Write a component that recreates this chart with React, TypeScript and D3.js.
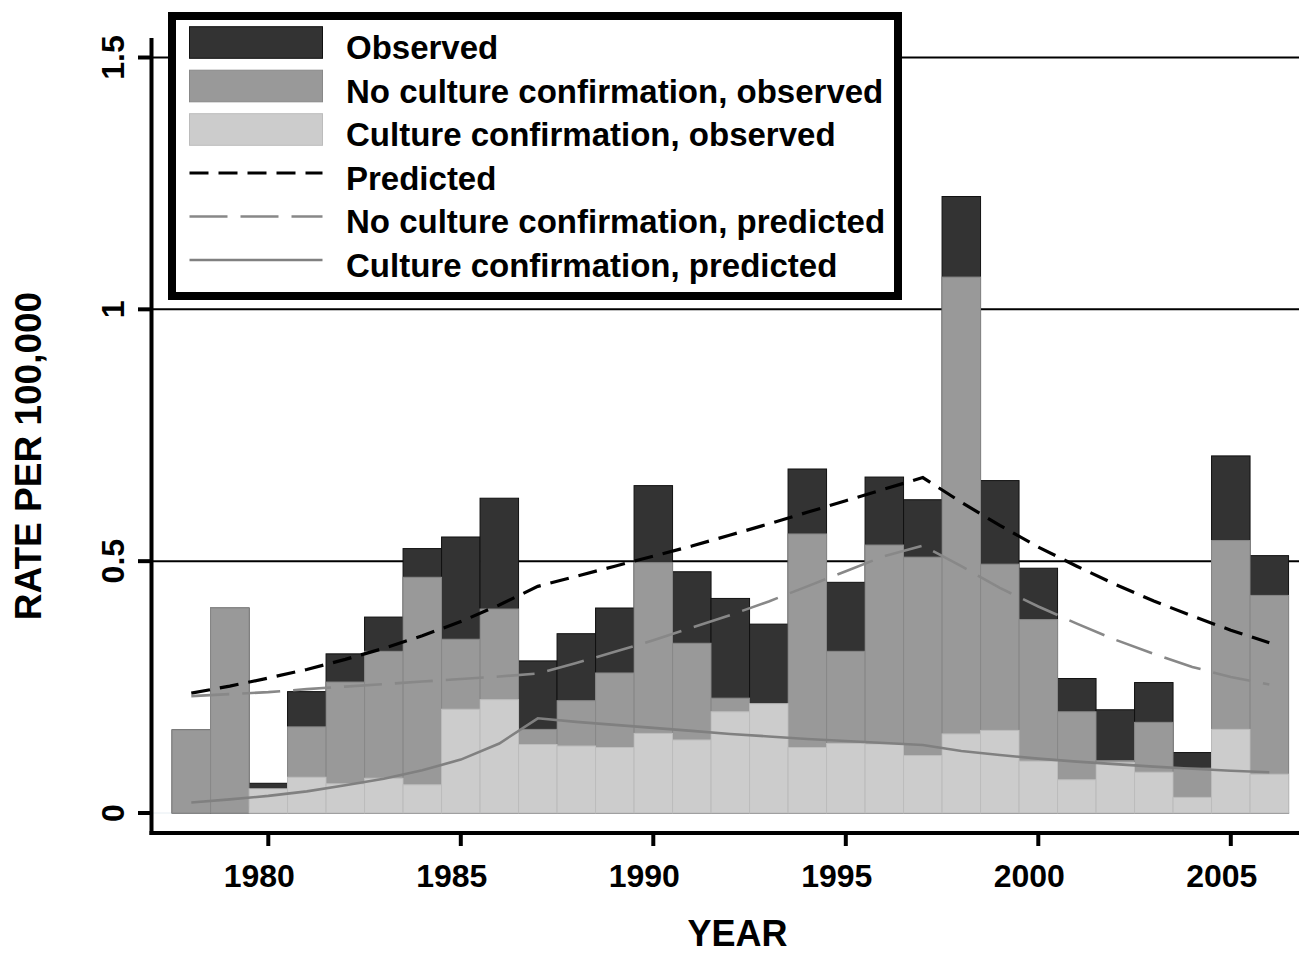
import React from "react";
import * as d3 from "d3";

// incidence rate per 100,000 by year, observed bars overlaid from zero
const years = [1978, 1979, 1980, 1981, 1982, 1983, 1984, 1985, 1986, 1987, 1988, 1989, 1990, 1991, 1992,
  1993, 1994, 1995, 1996, 1997, 1998, 1999, 2000, 2001, 2002, 2003, 2004, 2005, 2006];

const observed = [0.165, 0.407, 0.059, 0.241, 0.316, 0.389, 0.525, 0.548, 0.625, 0.302, 0.356, 0.407, 0.650, 0.479,
  0.426, 0.375, 0.683, 0.458, 0.667, 0.622, 1.224, 0.660, 0.486, 0.267, 0.205, 0.259, 0.120, 0.709, 0.511];
const noCultureObs = [0.165, 0.407, 0.011, 0.171, 0.260, 0.321, 0.468, 0.345, 0.405, 0.166, 0.223, 0.278, 0.497, 0.337,
  0.228, 0.158, 0.554, 0.321, 0.532, 0.508, 1.064, 0.494, 0.384, 0.201, 0.104, 0.180, 0.089, 0.541, 0.432];
const cultureObs = [0, 0, 0.048, 0.071, 0.058, 0.069, 0.056, 0.206, 0.225, 0.136, 0.133, 0.130, 0.158, 0.145,
  0.201, 0.217, 0.130, 0.138, 0.137, 0.114, 0.157, 0.164, 0.103, 0.066, 0.100, 0.081, 0.031, 0.166, 0.077];

const predicted = [0.238, 0.252, 0.268, 0.285, 0.305, 0.327, 0.352, 0.380, 0.413, 0.450, 0.470, 0.490, 0.510, 0.530,
  0.552, 0.574, 0.597, 0.620, 0.643, 0.666, 0.617, 0.571, 0.528, 0.490, 0.454, 0.421, 0.391, 0.363, 0.338];
const noCulturePred = [0.232, 0.236, 0.240, 0.246, 0.251, 0.256, 0.261, 0.266, 0.271, 0.277, 0.298, 0.320, 0.343, 0.368,
  0.393, 0.420, 0.450, 0.480, 0.510, 0.531, 0.490, 0.447, 0.410, 0.376, 0.344, 0.316, 0.290, 0.270, 0.255];
const culturePred = [0.021, 0.027, 0.034, 0.043, 0.055, 0.068, 0.085, 0.106, 0.138, 0.188, 0.181, 0.175, 0.169, 0.163,
  0.157, 0.152, 0.147, 0.143, 0.139, 0.135, 0.123, 0.115, 0.108, 0.102, 0.097, 0.092, 0.088, 0.084, 0.081];

const yTicks = [0, 0.5, 1, 1.5];
const yTickLabels = ["0", "0.5", "1", "1.5"];
const xTicks = [1980, 1985, 1990, 1995, 2000, 2005];

const legendLabels = [
  "Observed",
  "No culture confirmation, observed",
  "Culture confirmation, observed",
  "Predicted",
  "No culture confirmation, predicted",
  "Culture confirmation, predicted",
];

const W = 1299, H = 953;
const font = "'Liberation Sans', Arial, Helvetica, sans-serif";

const barStyles = [
  { fill: "#333333", stroke: "#111111" },
  { fill: "#999999", stroke: "#888888" },
  { fill: "#cccccc", stroke: "#bcbcbc" },
];
const lineStyles = [
  { stroke: "#000000", width: 3.2, dash: "19 10" },
  { stroke: "#888888", width: 2.6, dash: "38 13" },
  { stroke: "#808080", width: 2.6, dash: null },
];

export default function App() {
  const x = d3.scaleLinear().domain([1980, 2005]).range([268.3, 1230.8]);
  const y = d3.scaleLinear().domain([0, 1.5]).range([813, 57.5]);
  const axisX = 151.5, axisY = 833;

  const barSeries = [observed, noCultureObs, cultureObs];
  const lineSeries = [predicted, noCulturePred, culturePred];

  const line = d3.line<number>()
    .x((d, i) => x(years[i]))
    .y(d => y(d));

  return (
    <svg width={W} height={H} style={{ position: "absolute", left: 0, top: 0, background: "#fff" }}
      fontFamily={font} fontWeight="bold">
      {/* gridlines */}
      {yTicks.filter(t => t > 0).map(t => (
        <line key={"g" + t} x1={axisX} x2={W} y1={y(t)} y2={y(t)} stroke="#000" strokeWidth={2} />
      ))}
      <line x1={axisX} x2={1290} y1={y(0)} y2={y(0)} stroke="#e6edf2" strokeWidth={1} />

      {/* overlaid bars */}
      {barSeries.map((series, s) => (
        <g key={"b" + s}>
          {series.map((v, i) => v > 0 && (
            <rect key={i}
              x={x(years[i] - 0.5)} width={x(years[i] + 0.5) - x(years[i] - 0.5)}
              y={y(v)} height={y(0) - y(v)}
              fill={barStyles[s].fill} stroke={barStyles[s].stroke} strokeWidth={1} />
          ))}
        </g>
      ))}

      {/* predicted lines */}
      {lineSeries.map((series, s) => (
        <path key={"l" + s} d={line(series) || ""} fill="none"
          stroke={lineStyles[s].stroke} strokeWidth={lineStyles[s].width}
          strokeDasharray={lineStyles[s].dash || undefined} />
      ))}

      {/* axes */}
      <line x1={axisX} x2={axisX} y1={38} y2={axisY + 2} stroke="#000" strokeWidth={4} />
      <line x1={axisX - 2} x2={W} y1={axisY} y2={axisY} stroke="#000" strokeWidth={4} />
      {yTicks.map((t, i) => (
        <g key={"yt" + t}>
          <line x1={138} x2={axisX} y1={y(t)} y2={y(t)} stroke="#000" strokeWidth={4} />
          <text transform={`translate(124, ${y(t)}) rotate(-90)`} textAnchor="middle" fontSize={32}>
            {yTickLabels[i]}
          </text>
        </g>
      ))}
      {xTicks.map(t => (
        <g key={"xt" + t}>
          <line x1={x(t)} x2={x(t)} y1={axisY} y2={846} stroke="#000" strokeWidth={4} />
          <text x={x(t) - 9} y={887} textAnchor="middle" fontSize={32}>{t}</text>
        </g>
      ))}
      <text transform="translate(41, 456) rotate(-90)" textAnchor="middle" fontSize={37}>RATE PER 100,000</text>
      <text x={737.5} y={946} textAnchor="middle" fontSize={36}>YEAR</text>

      {/* legend */}
      <rect x={172} y={16} width={726} height={280} fill="#fff" stroke="#000" strokeWidth={8} />
      {legendLabels.map((label, i) => {
        const cy = 42.5 + i * 43.5;
        return (
          <g key={"lg" + i}>
            {i < 3 ? (
              <rect x={189.5} y={cy - 15.8} width={133} height={31.6}
                fill={barStyles[i].fill} stroke={barStyles[i].stroke} strokeWidth={1} />
            ) : (
              <line x1={189.5} x2={322.5} y1={cy} y2={cy}
                stroke={lineStyles[i - 3].stroke} strokeWidth={lineStyles[i - 3].width}
                strokeDasharray={lineStyles[i - 3].dash || undefined} />
            )}
            <text x={346} y={59 + i * 43.5} fontSize={33}>{label}</text>
          </g>
        );
      })}
    </svg>
  );
}
